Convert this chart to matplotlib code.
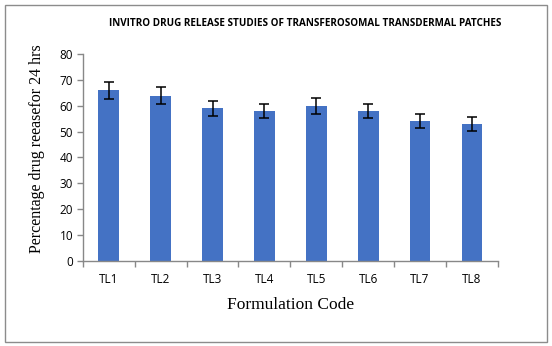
import numpy as np
import matplotlib
matplotlib.use("Agg")
import matplotlib.pyplot as plt
from matplotlib.patches import Rectangle

# Release after 24 hrs for each transferosomal patch formulation
codes = ["TL1", "TL2", "TL3", "TL4", "TL5", "TL6", "TL7", "TL8"]
release = [66, 64, 59, 58, 60, 58, 54, 53]
sd = [3.3, 3.3, 3.0, 2.6, 3.0, 2.6, 2.7, 2.6]

fig = plt.figure(figsize=(5.52, 3.46), dpi=100)
ax = fig.add_axes([0.150, 0.247, 0.752, 0.596])

x = np.arange(len(codes))
ax.bar(x, release, width=0.4, color="#4472C4", zorder=2)
ax.errorbar(x, release, yerr=sd, fmt="none", ecolor="black",
            elinewidth=1.1, capsize=3.5, capthick=1.1, zorder=3)

ax.set_xlim(-0.5, len(codes) - 0.5)
ax.set_ylim(0, 80)
ax.set_yticks(np.arange(0, 81, 10))

# category labels centred, tick marks between categories
ax.set_xticks(x)
ax.set_xticklabels(codes, fontsize=8.5, family="Open Sans")
ax.set_xticks(np.arange(-0.5, len(codes)), minor=True)
ax.tick_params(axis="x", which="major", length=0, pad=9)
ax.tick_params(axis="x", which="minor", length=4, color="#888888", width=1)
ax.tick_params(axis="y", length=4, color="#888888", width=1, pad=3)
for lbl in ax.get_yticklabels():
    lbl.set_fontsize(8.5)
    lbl.set_family("Open Sans")

for side in ["top", "right"]:
    ax.spines[side].set_visible(False)
for side in ["left", "bottom"]:
    ax.spines[side].set_color("#888888")
    ax.spines[side].set_linewidth(1)

ax.set_ylabel("Percentage drug reeasefor 24 hrs", family="Liberation Serif",
              fontsize=11.5)
ax.yaxis.set_label_coords(-0.092, 0.545)
ax.set_xlabel("Formulation Code", family="Liberation Serif", fontsize=12.5,
              labelpad=8)

fig.text(0.552, 0.932, "INVITRO DRUG RELEASE STUDIES OF TRANSFEROSOMAL TRANSDERMAL PATCHES",
         ha="center", va="center", fontsize=7.1, fontweight="bold", family="Open Sans")

# chart area border
fig.add_artist(Rectangle((5 / 552, 4 / 346), 542 / 552, 337 / 346,
                         transform=fig.transFigure, fill=False,
                         edgecolor="#8c8c8c", linewidth=1))

fig.savefig("out.png", dpi=100)
